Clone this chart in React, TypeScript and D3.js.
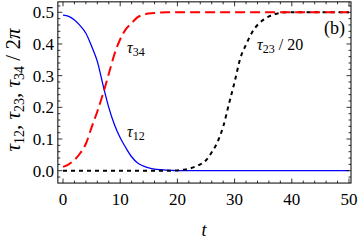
import React from 'react'
import * as d3 from 'd3'

// t grid 0..50 step 1
const tValues = d3.range(0, 51)

// tau12 (blue, solid)
const tau12 = [
	0.491, 0.487, 0.476, 0.458, 0.434, 0.393, 0.345, 0.27, 0.2, 0.145, 0.104, 0.072, 0.044, 0.025,
	0.015, 0.009, 0.005, 0.003, 0.002, 0.001, 0, 0, 0, 0, 0, 0, 0, 0, 0, 0, 0, 0, 0, 0, 0, 0, 0, 0,
	0, 0, 0, 0, 0, 0, 0, 0, 0, 0, 0, 0, 0,
]

// tau34 (red, dashed)
const tau34 = [
	0.012, 0.02, 0.034, 0.055, 0.085, 0.137, 0.187, 0.243, 0.305, 0.368, 0.415, 0.447, 0.466, 0.484,
	0.492, 0.496, 0.498, 0.499, 0.5, 0.5, 0.5, 0.5, 0.5, 0.5, 0.5, 0.5, 0.5, 0.5, 0.5, 0.5, 0.5, 0.5,
	0.5, 0.5, 0.5, 0.5, 0.5, 0.5, 0.5, 0.5, 0.5, 0.5, 0.5, 0.5, 0.5, 0.5, 0.5, 0.5, 0.5, 0.5, 0.5,
]

// tau23 / 20 (black, dotted)
const tau23 = [
	0, 0, 0, 0, 0, 0, 0, 0, 0, 0, 0, 0, 0, 0, 0, 0, 0, 0, 0, 0, 0.001, 0.003, 0.006, 0.012, 0.02,
	0.033, 0.058, 0.09, 0.139, 0.21, 0.28, 0.355, 0.398, 0.435, 0.46, 0.476, 0.487, 0.494, 0.498,
	0.5, 0.5, 0.5, 0.5, 0.5, 0.5, 0.5, 0.5, 0.5, 0.5, 0.5, 0.5,
]

const xTicks = [0, 10, 20, 30, 40, 50]
const yTicks = [0, 0.1, 0.2, 0.3, 0.4, 0.5]

const W = 361
const H = 243
const font = "'Liberation Serif', 'Times New Roman', serif"

export default function App() {
	const x = d3.scaleLinear().domain([0, 50]).range([63, 349])
	const y = d3.scaleLinear().domain([0, 0.5]).range([170.7, 12.3])

	const x0 = x(-0.9)
	const x1 = x(50.35)
	const y0 = y(-0.039)
	const y1 = y(0.533)

	const line = (vals: number[]) =>
		d3
			.line<number>()
			.x((_, i) => x(tValues[i]))
			.y(d => y(d))
			.curve(d3.curveMonotoneX)(vals) || ''

	const xMinor = d3.range(0, 51, 2).filter(v => v % 10 !== 0)
	const yMinor = d3.range(-0.02, 0.53, 0.02).filter(v => Math.abs(Math.round(v * 10) - v * 10) > 0.01)

	return (
		<svg width={W} height={H} style={{ position: 'absolute', left: 0, top: 0 }}>
			<rect width={W} height={H} fill="white" />
			<defs>
				<clipPath id="plot">
					<rect x={x0} y={y1} width={x1 - x0} height={y0 - y1} />
				</clipPath>
			</defs>

			<g clipPath="url(#plot)" fill="none">
				<path d={line(tau12)} stroke="#0000ff" strokeWidth={1.3} />
				<path d={line(tau23)} stroke="black" strokeWidth={2} strokeDasharray="4,4" />
				<path d={line(tau34)} stroke="#ff0000" strokeWidth={2} strokeDasharray="10,5" />
			</g>

			{/* frame */}
			<rect x={x0} y={y1} width={x1 - x0} height={y0 - y1} fill="none" stroke="black" strokeWidth={1} />

			{/* ticks on all four sides, pointing inward */}
			<g stroke="black" strokeWidth={0.8}>
				{xTicks.map(v => (
					<g key={'xt' + v}>
						<line x1={x(v)} x2={x(v)} y1={y0} y2={y0 - 4.5} />
						<line x1={x(v)} x2={x(v)} y1={y1} y2={y1 + 4.5} />
					</g>
				))}
				{xMinor.map(v => (
					<g key={'xm' + v}>
						<line x1={x(v)} x2={x(v)} y1={y0} y2={y0 - 2.5} />
						<line x1={x(v)} x2={x(v)} y1={y1} y2={y1 + 2.5} />
					</g>
				))}
				{yTicks.map(v => (
					<g key={'yt' + v}>
						<line x1={x0} x2={x0 + 4.5} y1={y(v)} y2={y(v)} />
						<line x1={x1} x2={x1 - 4.5} y1={y(v)} y2={y(v)} />
					</g>
				))}
				{yMinor.map(v => (
					<g key={'ym' + v}>
						<line x1={x0} x2={x0 + 2.5} y1={y(v)} y2={y(v)} />
						<line x1={x1} x2={x1 - 2.5} y1={y(v)} y2={y(v)} />
					</g>
				))}
			</g>

			{/* tick labels */}
			<g fontFamily={font} fontSize={17} fill="black">
				{xTicks.map(v => (
					<text key={'xl' + v} x={x(v)} y={205} textAnchor="middle">
						{v}
					</text>
				))}
				{yTicks.map(v => (
					<text key={'yl' + v} x={54} y={y(v) + 6} textAnchor="end">
						{v.toFixed(1)}
					</text>
				))}
			</g>

			{/* axis titles */}
			<text x={204} y={236} fontFamily={font} fontSize={18} fontStyle="italic" textAnchor="middle">
				t
			</text>
			<text
				transform={`translate(20, ${90}) rotate(-90)`}
				fontFamily={font}
				fontSize={21}
				textAnchor="middle"
			>
				<tspan fontStyle="italic">τ</tspan>
				<tspan fontSize={14} dy={4}>12</tspan>
				<tspan dy={-4}>, </tspan>
				<tspan fontStyle="italic">τ</tspan>
				<tspan fontSize={14} dy={4}>23</tspan>
				<tspan dy={-4}>, </tspan>
				<tspan fontStyle="italic">τ</tspan>
				<tspan fontSize={14} dy={4}>34</tspan>
				<tspan dy={-4}> / 2</tspan>
				<tspan fontStyle="italic">π</tspan>
			</text>

			{/* curve labels */}
			<g fontFamily={font} fontSize={16} fill="black">
				<text x={127} y={53}>
					<tspan fontStyle="italic">τ</tspan>
					<tspan fontSize={12} dy={3}>34</tspan>
				</text>
				<text x={127} y={137}>
					<tspan fontStyle="italic">τ</tspan>
					<tspan fontSize={12} dy={3}>12</tspan>
				</text>
				<text x={257} y={50}>
					<tspan fontStyle="italic">τ</tspan>
					<tspan fontSize={12} dy={3}>23</tspan>
					<tspan dy={-3}> / 20</tspan>
				</text>
				<text x={345} y={34} fontSize={18} textAnchor="end">
					(b)
				</text>
			</g>
		</svg>
	)
}
